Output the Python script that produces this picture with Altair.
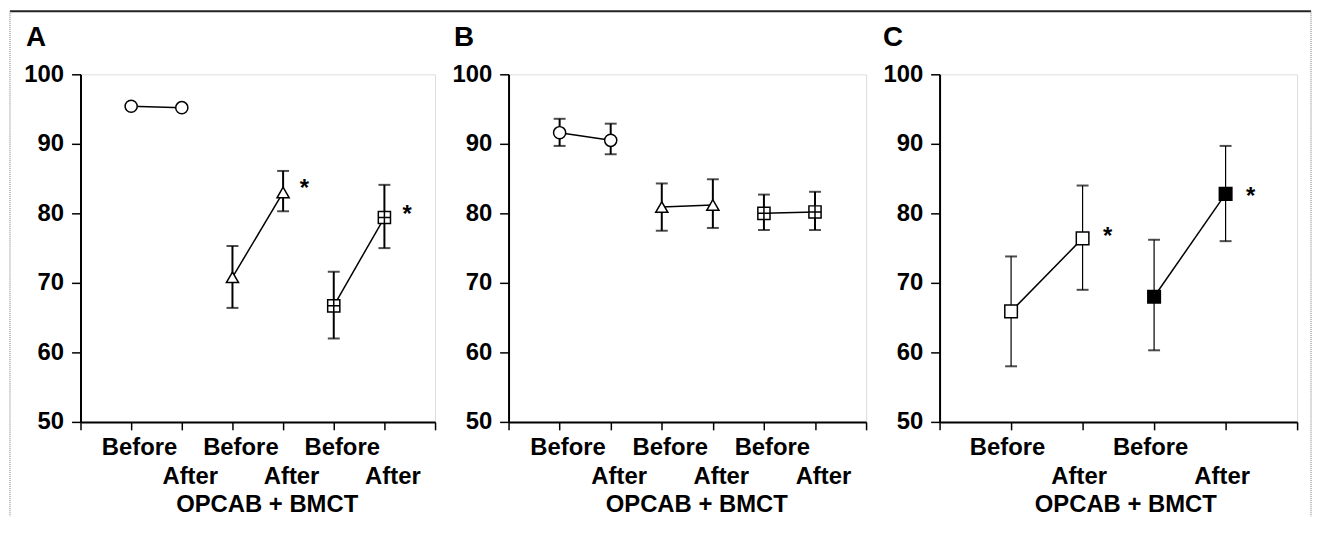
import altair as alt
import pandas as pd

FONT = "Liberation Sans, Arial, Helvetica, sans-serif"

# ---------------- data ----------------
# Panel A
a_group = ["circle", "circle", "triangle", "triangle", "xsquare", "xsquare"]
a_pos = [1, 2, 3, 4, 5, 6]
a_mean = [95.4, 95.2, 70.8, 83.0, 66.7, 79.4]
a_lo = [None, None, 66.4, 80.3, 62.0, 75.0]
a_hi = [None, None, 75.3, 86.1, 71.6, 84.1]
a_star_x = [4.42, 6.45]
a_star_y = [84.2, 80.4]

# Panel B
b_group = ["circle", "circle", "triangle", "triangle", "xsquare", "xsquare"]
b_pos = [1, 2, 3, 4, 5, 6]
b_mean = [91.6, 90.5, 80.9, 81.2, 80.0, 80.2]
b_lo = [89.7, 88.5, 77.5, 77.9, 77.6, 77.6]
b_hi = [93.6, 92.9, 84.3, 84.9, 82.7, 83.1]

# Panel C
c_group = ["open", "open", "filled", "filled"]
c_pos = [1, 2, 3, 4]
c_mean = [65.9, 76.4, 68.0, 82.8]
c_lo = [58.0, 69.0, 60.3, 76.0]
c_hi = [73.8, 84.0, 76.2, 89.7]
c_star_x = [2.35, 4.35]
c_star_y = [77.3, 83.1]

y_ticks = [50, 60, 70, 80, 90, 100]
before_label = "Before"
after_label = "After"
x_title = "OPCAB + BMCT"

SHAPE_DOMAIN = ["circle", "triangle", "xsquare", "open", "filled"]
SHAPE_RANGE = ["circle", "triangle-up", "M-1,-1H1V1H-1ZM-1,0H1M0,-1V1", "square", "square"]
FILL_RANGE = ["white", "white", "white", "white", "black"]

LABEL_FS = 24


def make_df(group, pos, mean, lo, hi):
    return pd.DataFrame({"group": group, "pos": pos, "mean": mean, "lo": lo, "hi": hi})


def panel(df, xmax, title, stars=None, width=360, bar_w=2.0, size=150, border=False,
          title_dx=-55, title_offset=10.5, label_offset=0, xtitle_shift=0):
    xs = alt.Scale(domain=[0, xmax], nice=False, zero=False)
    ys = alt.Scale(domain=[50, 100], nice=False, zero=False)
    label_expr = (
        f"(datum.value > 0 && datum.value < {xmax}) ? "
        f"(datum.value % 2 == 1 ? '{before_label}' : ['', '{after_label}']) : ''"
    )
    xaxis = alt.Axis(
        values=list(range(xmax + 1)), labelExpr=label_expr, title=x_title, grid=False,
        domainColor="black", domainWidth=2, tickColor="black", tickWidth=1.5, tickSize=8,
        labelFont=FONT, labelFontSize=LABEL_FS, labelFontWeight="bold", labelColor="black",
        labelLineHeight=29, labelPadding=6, labelOverlap=False, labelFlush=False,
        labelOffset=label_offset,
        titleFont=FONT, titleFontSize=LABEL_FS, titleFontWeight="bold", titleColor="black",
        titlePadding=4, titleX=width / 2 + xtitle_shift,
    )
    yaxis = alt.Axis(
        values=y_ticks, title=None, grid=False,
        domainColor="black", domainWidth=2, tickColor="black", tickWidth=1.5, tickSize=9,
        labelFont=FONT, labelFontSize=LABEL_FS, labelFontWeight="bold", labelColor="black",
        labelPadding=8,
    )
    base = alt.Chart(df)
    x = alt.X("pos:Q", scale=xs, axis=xaxis)
    y = alt.Y("mean:Q", scale=ys, axis=yaxis)

    bars = base.transform_filter("isValid(datum.lo)").mark_rule(
        color="black", strokeWidth=bar_w).encode(x=x, y=alt.Y("lo:Q", scale=ys, axis=yaxis), y2="hi:Q")
    cap_lo = base.transform_filter("isValid(datum.lo)").mark_tick(
        orient="horizontal", size=12, thickness=2, color="black").encode(
        x=x, y=alt.Y("lo:Q", scale=ys, axis=yaxis))
    cap_hi = base.transform_filter("isValid(datum.hi)").mark_tick(
        orient="horizontal", size=12, thickness=2, color="black").encode(
        x=x, y=alt.Y("hi:Q", scale=ys, axis=yaxis))
    line = base.mark_line(color="black", strokeWidth=1.5).encode(x=x, y=y, detail="group:N")
    pts = base.mark_point(filled=True, stroke="black", strokeWidth=1.5, size=size, opacity=1).encode(
        x=x, y=y,
        shape=alt.Shape("group:N", scale=alt.Scale(domain=SHAPE_DOMAIN, range=SHAPE_RANGE), legend=None),
        fill=alt.Fill("group:N", scale=alt.Scale(domain=SHAPE_DOMAIN, range=FILL_RANGE), legend=None),
    )
    layers = [bars, cap_lo, cap_hi, line, pts]
    if stars is not None:
        sdf = pd.DataFrame({"sx": stars[0], "sy": stars[1], "t": ["*"] * len(stars[0])})
        st = alt.Chart(sdf).mark_text(
            font=FONT, fontSize=24, fontWeight="bold", color="black", baseline="alphabetic", dy=12
        ).encode(x=alt.X("sx:Q", scale=xs, axis=xaxis), y=alt.Y("sy:Q", scale=ys, axis=yaxis), text="t:N")
        layers.append(st)
    if border:
        bdf = pd.DataFrame({"k": [0]})
        b = alt.Chart(bdf)
        top = b.mark_rule(color="#222", strokeWidth=2).encode(
            x=alt.value(-71), x2=alt.value(1239), y=alt.value(-63.5))
        left = b.mark_rule(color="#777", strokeWidth=1, strokeDash=[1, 1]).encode(
            x=alt.value(-71), y=alt.value(-63.5), y2=alt.value(445))
        right = b.mark_rule(color="#777", strokeWidth=1, strokeDash=[1, 1]).encode(
            x=alt.value(1239), y=alt.value(-63.5), y2=alt.value(445))
        layers += [top, left, right]
    return alt.layer(*layers).properties(
        width=width, height=350,
        title=alt.TitleParams(title, anchor="start", frame="group", font=FONT, fontSize=28,
                              fontWeight="bold", color="black", offset=title_offset, dx=title_dx),
    )


pA = panel(make_df(a_group, a_pos, a_mean, a_lo, a_hi), 7, "A", stars=(a_star_x, a_star_y),
           width=357, bar_w=2.0, size=150, border=True, title_dx=-55, title_offset=-42,
           label_offset=8, xtitle_shift=9)
pB = panel(make_df(b_group, b_pos, b_mean, b_lo, b_hi), 7, "B", width=360, bar_w=2.0, size=150,
           title_dx=-55, title_offset=10.5, label_offset=8, xtitle_shift=9)
pC = panel(make_df(c_group, c_pos, c_mean, c_lo, c_hi), 5, "C", stars=(c_star_x, c_star_y),
           width=360, bar_w=1.2, size=160, title_dx=-57, title_offset=10.5,
           label_offset=-4, xtitle_shift=7)

chart = alt.hconcat(pA, pB, pC, spacing=74, bounds="flush").properties(padding=0).configure_view(
    stroke="#333", strokeWidth=1.3
).configure(background="white")

chart.save("out.html", embed_options={"renderer": "svg", "actions": False})
